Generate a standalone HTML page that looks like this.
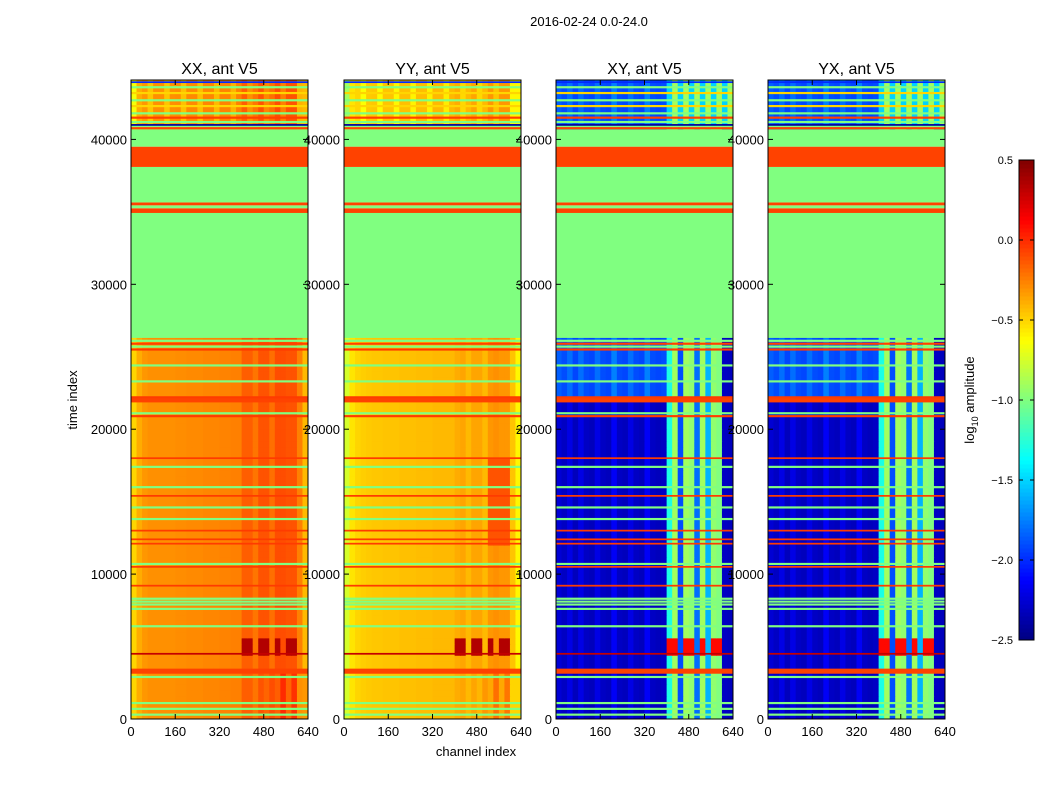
<!DOCTYPE html>
<html><head><meta charset="utf-8"><style>
body{margin:0;background:#fff;}
svg{display:block;font-family:"Liberation Sans",sans-serif;}
</style></head><body>
<svg id="fig" width="1050" height="800" viewBox="0 0 1050 800">
<rect width="1050" height="800" fill="#fff"/>
<text x="589" y="26" font-size="13" text-anchor="middle">2016-02-24 0.0-24.0</text>
<text x="476" y="756" font-size="13" text-anchor="middle">channel index</text>
<text x="77" y="400" font-size="13" text-anchor="middle" transform="rotate(-90 77 400)">time index</text>
<g id="panels"></g>
<g id="cbar"></g>
<text x="974" y="400" font-size="13" text-anchor="middle" transform="rotate(-90 974 400)">log<tspan font-size="9" dy="4">10</tspan><tspan dy="-4"> amplitude</tspan></text>
</svg>
<script>
const panelTitles=["XX, ant V5","YY, ant V5","XY, ant V5","YX, ant V5"];
const xTicks=[0,160,320,480,640];
const yTicks=[0,10000,20000,30000,40000];
const cbTicks=[0.5,0.0,-0.5,-1.0,-1.5,-2.0,-2.5];
const chXX=[-0.5,-0.38,-0.32,-0.3,-0.3,-0.3,-0.3,-0.3,-0.29,-0.29,-0.28,-0.28,-0.28,-0.27,-0.27,-0.27,-0.26,-0.26,-0.25,-0.25,-0.15,-0.15,-0.22,-0.12,-0.12,-0.2,-0.1,-0.1,-0.12,-0.12,-0.25,-0.42];
const chYY=[-0.75,-0.55,-0.5,-0.48,-0.47,-0.46,-0.46,-0.45,-0.45,-0.45,-0.44,-0.44,-0.44,-0.43,-0.43,-0.43,-0.42,-0.42,-0.42,-0.42,-0.38,-0.36,-0.42,-0.36,-0.36,-0.42,-0.32,-0.3,-0.32,-0.32,-0.45,-0.6];
const chXY=[-2.25,-2.3,-2.2,-2.32,-2.2,-2.3,-2.32,-2.2,-2.3,-2.32,-2.15,-2.3,-2.32,-2.2,-2.3,-2.32,-2.15,-2.3,-2.32,-2.3,-1.3,-0.9,-1.9,-0.9,-0.95,-1.8,-0.9,-1.6,-0.95,-1.0,-2.3,-2.32];
const chYX=[-2.25,-2.3,-2.2,-2.32,-2.2,-2.3,-2.32,-2.2,-2.3,-2.32,-2.15,-2.3,-2.32,-2.2,-2.3,-2.32,-2.15,-2.3,-2.32,-2.3,-1.3,-0.9,-1.9,-0.9,-0.95,-1.8,-0.9,-1.6,-0.95,-1.0,-2.3,-2.32];
// fixed bands in time (all panels)
const segStart=[26300,35000,35250,35450,35650,38100,39500,40700,40850];
const segEnd=[35000,35250,35450,35650,38100,39500,40700,40850,41000];
const segVal=[-1.0,-0.07,-1.0,-0.07,-1.0,-0.07,-1.0,-0.07,-1.0];
// horizontal line artifacts
const lineT=[300,700,1100,2900,3300,4500,6400,7600,7900,8100,8300,9200,10500,10700,12100,12400,13000,13800,14600,15400,16000,17400,18000,20900,21100,22000,22200,23300,24400,25500,25700,25900,26100,35000,41000,41200,41500,41800,42300,42700,43200,43600,43950];
const lineV=[-1.0,-1.0,-1.0,-1.0,-0.07,0.3,-1.0,-1.0,-1.0,-1.0,-1.0,-0.05,-0.05,-1.0,-0.05,-0.05,-0.05,-1.0,-1.0,-0.05,-1.0,-1.0,-0.05,-0.05,-1.0,-0.07,-0.05,-1.0,-1.0,-0.05,-1.0,-0.07,-1.0,-0.07,-2.4,-1.0,-0.07,-1.0,-0.5,-1.0,-0.5,-1.0,-2.0];
const lineW=[150,150,150,150,350,120,150,150,150,150,150,120,120,150,120,120,120,150,150,120,150,150,120,150,150,300,150,150,150,150,150,150,150,150,120,150,150,150,150,150,150,150,120];
// hot blob region
const blobT=[4300,5400];
const blobVal=[0.35,0.35,0.1,0.1];
const T_MAX=44100, C_MAX=640;
const panelX=[131,344,556,768], PW=177, PT=80, PB=719;
const NS="http://www.w3.org/2000/svg";
function jet(v){let x=(v+2.5)/3;x=Math.max(0,Math.min(1,x));
 const c=t=>Math.round(255*Math.max(0,Math.min(1,1.5-Math.abs(t))));
 return `rgb(${c(4*x-3)},${c(4*x-2)},${c(4*x-1)})`;}
function mk(tag,attrs,parent){const e=document.createElementNS(NS,tag);for(const k in attrs)e.setAttribute(k,attrs[k]);parent.appendChild(e);return e;}
const yS=t=>PB-t*(PB-PT)/T_MAX;
const chans=[chXX,chYY,chXY,chYX];
const pan=document.getElementById('panels');
panelTitles.forEach((title,p)=>{
 const x0=panelX[p], xS=c=>x0+c*PW/C_MAX;
 const lab=mk('g',{},pan);
 const tt=mk('text',{x:x0+PW/2,y:74,'font-size':16,'text-anchor':'middle'},lab);tt.textContent=title;
 
 
 yTicks.forEach(v=>{const t=mk('text',{x:x0-4,y:yS(v)+5,'font-size':13,'text-anchor':'end'},lab);t.textContent=v;
  
  });
 xTicks.forEach(v=>{const t=mk('text',{x:xS(v),y:736,'font-size':13,'text-anchor':'middle'},lab);t.textContent=v;
  
  });
 const g=mk('g',{},pan);
 
 
 const ch=chans[p], nb=ch.length, bw=C_MAX/nb, cross=p>=2;
 const step=400;
 for(let t=0;t<T_MAX;t+=step){
  const t1=Math.min(T_MAX,t+step);
  if(t>=26300&&t1<=40700)continue;
  for(let b=0;b<nb;b++){
   let v=ch[b];
   if(cross&&b<20&&((t>=21800&&t<26300)||(t>=40700)))v+=0.4;
   if(!cross&&t>=40700)v+=(b%3===0?-0.15:0.0);
   if(cross&&t>=40700&&b>=20)v=(b%2?-0.9:-1.5);
   if(p===1&&t>=12000&&t<18000&&b>=26&&b<30)v=-0.12;
   if(t>=blobT[0]&&t<blobT[1]&&b>=20&&b<30&&!((b===22||b===25||b===27)))v=blobVal[p];
   if(!cross&&t<3000&&b>=24)v+=(b%2?0.1:-0.05);
   const r=mk('rect',{x:xS(b*bw),y:yS(t1),width:PW/nb+0.5,height:yS(t)-yS(t1)+0.5,fill:jet(v)},g);
   
   
  }
 }
 segStart.forEach((s,i)=>{const r=mk('rect',{x:x0,y:yS(segEnd[i]),width:PW,height:yS(s)-yS(segEnd[i]),fill:jet(segVal[i])},g);
  
  });
 lineT.forEach((lt,i)=>{const h=Math.max(1,yS(0)-yS(lineW[i]));
  const r=mk('rect',{x:x0,y:yS(lt)-h/2,width:PW,height:h,fill:jet(lineV[i])},g);
  
  });
 const fr=mk('rect',{x:x0,y:PT,width:PW,height:PB-PT,fill:'none',stroke:'#000','stroke-width':1},pan);
 
 
 xTicks.forEach(v=>{mk('line',{x1:xS(v),x2:xS(v),y1:PB,y2:PB-5,stroke:'#000'},pan);mk('line',{x1:xS(v),x2:xS(v),y1:PT,y2:PT+5,stroke:'#000'},pan);});
 yTicks.forEach(v=>{mk('line',{x1:x0,x2:x0+5,y1:yS(v),y2:yS(v),stroke:'#000'},pan);mk('line',{x1:x0+PW-5,x2:x0+PW,y1:yS(v),y2:yS(v),stroke:'#000'},pan);});
});
// colorbar
const cb=document.getElementById('cbar');
const CX=1019,CW=15,CT=160,CB=640;
const cbY=v=>CB-(v+2.5)/3*(CB-CT);
for(let i=0;i<120;i++){const v0=-2.5+3*i/120,v1=-2.5+3*(i+1)/120;
 const r=mk('rect',{x:CX,y:cbY(v1),width:CW,height:cbY(v0)-cbY(v1)+0.5,fill:jet((v0+v1)/2)},cb);
 
 }
const cf=mk('rect',{x:CX,y:CT,width:CW,height:CB-CT,fill:'none',stroke:'#000'},cb);


cbTicks.forEach(v=>{mk('line',{x1:CX+CW-4,x2:CX+CW,y1:cbY(v),y2:cbY(v),stroke:'#000'},cb);mk('line',{x1:CX,x2:CX+4,y1:cbY(v),y2:cbY(v),stroke:'#000'},cb);
 const t=mk('text',{x:1013,y:cbY(v)+4,'font-size':11,'text-anchor':'end'},cb);t.textContent=v.toFixed(1).replace('-','\u2212');
 
 });
</script>
</body></html>
